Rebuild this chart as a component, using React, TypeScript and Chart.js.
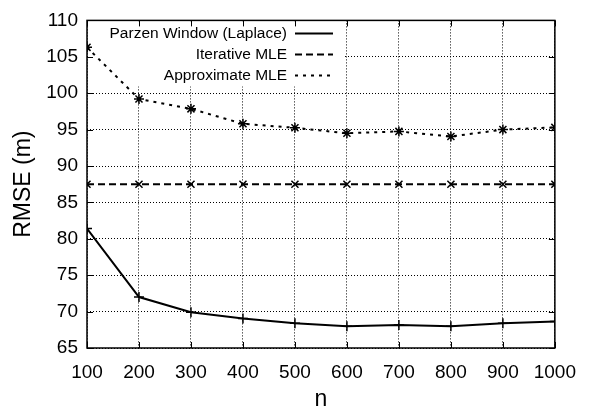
import React, { useEffect, useRef } from "react";
import { Chart, registerables } from "chart.js";

Chart.register(...registerables);

const nValues = [100, 200, 300, 400, 500, 600, 700, 800, 900, 1000];
const parzen = [81.4, 72.0, 69.9, 69.05, 68.4, 68.0, 68.15, 68.0, 68.4, 68.65];
const iterative = [87.5, 87.5, 87.5, 87.5, 87.5, 87.5, 87.5, 87.5, 87.5, 87.5];
const approximate = [106.3, 99.2, 97.85, 95.8, 95.25, 94.5, 94.75, 94.05, 95.0, 95.3];
const seriesLabels = ["Parzen Window (Laplace)", "Iterative MLE", "Approximate MLE"];
const seriesDashes: number[][] = [[], [7, 4], [3, 5]];

const FONT = "'Liberation Sans', Arial, Helvetica, sans-serif";

const frame = {
  id: "frame",
  beforeDatasetsDraw(chart: any) {
    const { ctx, chartArea: a } = chart;
    ctx.save();
    ctx.fillStyle = "#fff";
    ctx.fillRect(a.left + 1, a.top + 1, 257, 65);
    ctx.font = `15.5px ${FONT}`;
    ctx.fillStyle = "#000";
    ctx.textAlign = "right";
    ctx.textBaseline = "middle";
    ctx.lineWidth = 2;
    ctx.strokeStyle = "#000";
    seriesLabels.forEach((lab, i) => {
      const y = a.top + 13 + i * 21;
      ctx.fillText(lab, a.left + 200, y);
      ctx.setLineDash(seriesDashes[i]);
      ctx.beginPath();
      ctx.moveTo(a.left + 208, y);
      ctx.lineTo(a.left + 246, y);
      ctx.stroke();
    });
    ctx.restore();
  },
  afterDraw(chart: any) {
    const { ctx, chartArea: a, scales } = chart;
    ctx.save();
    ctx.strokeStyle = "#000";
    ctx.lineWidth = 1.5;
    ctx.setLineDash([]);
    ctx.strokeRect(a.left, a.top, a.right - a.left, a.bottom - a.top);
    const tl = 6;
    ctx.lineWidth = 1;
    ctx.beginPath();
    scales.x.ticks.forEach((t: any) => {
      const x = Math.round(scales.x.getPixelForValue(t.value)) + 0.5;
      ctx.moveTo(x, a.bottom);
      ctx.lineTo(x, a.bottom - tl);
      ctx.moveTo(x, a.top);
      ctx.lineTo(x, a.top + tl);
    });
    scales.y.ticks.forEach((t: any) => {
      const y = Math.round(scales.y.getPixelForValue(t.value)) + 0.5;
      ctx.moveTo(a.left, y);
      ctx.lineTo(a.left + tl, y);
      ctx.moveTo(a.right, y);
      ctx.lineTo(a.right - tl, y);
    });
    ctx.stroke();
    ctx.restore();
  },
};

export default function App() {
  const ref = useRef<HTMLCanvasElement>(null);
  useEffect(() => {
    document.body.style.margin = "0";
    const mk = (data: number[], i: number, style: string) => ({
      label: seriesLabels[i],
      data: nValues.map((x, k) => ({ x, y: data[k] })),
      borderColor: "#000",
      backgroundColor: "#000",
      borderWidth: 2,
      borderDash: seriesDashes[i],
      pointStyle: style,
      pointRadius: 5,
      pointBorderWidth: 1.5,
      pointBorderColor: "#000",
      tension: 0,
      fill: false,
    });
    const chart = new Chart(ref.current!, {
      type: "line",
      data: {
        datasets: [
          mk(parzen, 0, "cross"),
          mk(iterative, 1, "crossRot"),
          mk(approximate, 2, "star"),
        ] as any,
      },
      plugins: [frame],
      options: {
        animation: false,
        responsive: false,
        devicePixelRatio: 1,
        layout: { padding: { top: 16, right: 31, left: 0, bottom: 0 } },
        plugins: { legend: { display: false }, tooltip: { enabled: false } },
        scales: {
          x: {
            type: "linear",
            min: 100,
            max: 1000,
            ticks: {
              stepSize: 100,
              color: "#000",
              font: { family: FONT, size: 19 },
              padding: 13,
              maxRotation: 0,
              callback: (v: any) => String(v),
            },
            grid: { color: "#000", lineWidth: 1, drawTicks: false },
            border: { display: false, dash: [1, 2] } as any,
            title: { display: true, text: "n", color: "#000", font: { family: FONT, size: 23, lineHeight: 1 }, padding: { top: 0, bottom: -1 } },
            afterFit(s: any) { s.height = 62; },
          },
          y: {
            min: 65,
            max: 110,
            ticks: { stepSize: 5, color: "#000", font: { family: FONT, size: 19 }, padding: 9 },
            grid: { color: "#000", lineWidth: 1, drawTicks: false },
            border: { display: false, dash: [1, 2] } as any,
            title: { display: true, text: "RMSE (m)", color: "#000", font: { family: FONT, size: 23, lineHeight: 1 }, padding: { top: 12.5, bottom: 0 } },
            afterFit(s: any) { s.width = 87; },
          },
        },
      } as any,
    });
    return () => chart.destroy();
  }, []);
  return (
    <div style={{ position: "fixed", left: 0, top: 0, width: 589, height: 410 }}>
      <canvas ref={ref} width={589} height={410} style={{ width: 589, height: 410 }} />
    </div>
  );
}
